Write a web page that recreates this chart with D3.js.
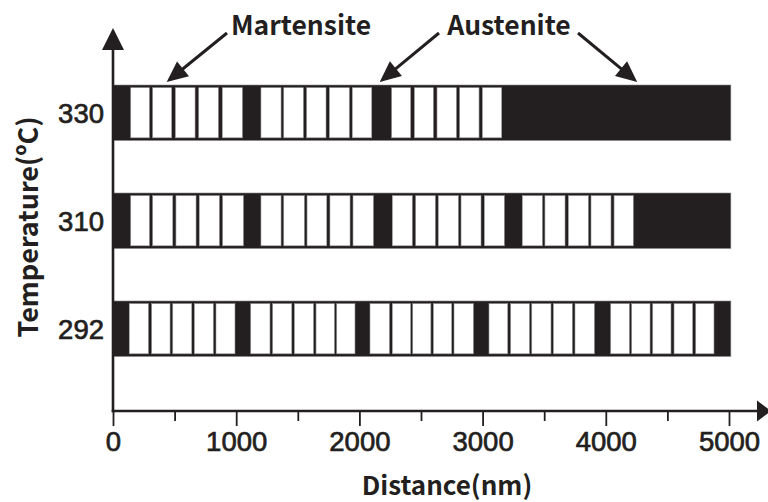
<!DOCTYPE html>
<html>
<head>
<meta charset="utf-8">
<script src="https://cdn.jsdelivr.net/npm/d3@7"></script>
<style>
  html, body { margin: 0; padding: 0; background: #fff; }
  svg { display: block; }
</style>
</head>
<body>
<svg id="chart" width="768" height="502"></svg>
<script>
// Rows of the plate map (temperature, °C), top to bottom
const temperatures = ["330", "310", "292"];

// Austenite strip length (nm)
const stripLength = 5015;

// Martensite plates per row: [start, end] in nm
const plates330 = [
  [144, 295], [322, 476], [506, 666], [696, 855], [887, 1050],
  [1201, 1364], [1386, 1545], [1572, 1729], [1756, 1918], [1942, 2100],
  [2262, 2416], [2446, 2600], [2630, 2787], [2814, 2971], [2998, 3155]
];
const plates310 = [
  [144, 295], [322, 485], [511, 674], [700, 863], [890, 1058],
  [1201, 1364], [1386, 1553], [1575, 1735], [1761, 1924], [1948, 2113],
  [2267, 2429], [2457, 2616], [2640, 2803], [2825, 2987], [3014, 3176],
  [3322, 3485], [3506, 3669], [3696, 3858], [3880, 4042], [4067, 4223]
];
const plates292 = [
  [132, 287], [314, 463], [485, 639], [660, 814], [836, 990],
  [1118, 1274], [1296, 1451], [1472, 1627], [1648, 1797], [1816, 1964],
  [2086, 2243], [2267, 2416], [2433, 2580], [2600, 2749], [2768, 2925],
  [3052, 3204], [3228, 3380], [3399, 3555], [3574, 3728], [3750, 3907],
  [4040, 4191], [4210, 4359], [4381, 4529], [4554, 4705], [4730, 4878]
];

// Axis ticks
const majorTicks = [0, 1000, 2000, 3000, 4000, 5000];
const minorTicks = [500, 1500, 2500, 3500, 4500];

// Callouts: label and the distance (nm) each arrow points at
const calloutLabels = ["Martensite", "Austenite"];
const calloutTargets = [[436], [2165, 4255]];

const platesByRow = { "330": plates330, "310": plates310, "292": plates292 };

const ink = "#231f20";
const latinFont = "'Liberation Sans', Arial, sans-serif";
const titleFont = "'Noto Sans CJK SC', 'Noto Sans', sans-serif";

const svg = d3.select("#chart");

const axisY = 411;
const x = d3.scaleLinear().domain([0, 5000]).range([113, 729]);
const y = d3.scaleBand()
  .domain(temperatures)
  .range([85, 356.5])
  .paddingInner(0.486)
  .paddingOuter(0);

// Strips and plates
const rows = svg.append("g").selectAll("g")
  .data(temperatures)
  .join("g")
  .attr("transform", d => `translate(0,${y(d)})`);

rows.append("rect")
  .attr("x", x(0))
  .attr("y", 0)
  .attr("width", x(stripLength) - x(0))
  .attr("height", y.bandwidth())
  .attr("fill", ink)
  .attr("stroke", "#8a8a8a")
  .attr("stroke-width", 0.6);

rows.selectAll("rect.plate")
  .data(d => platesByRow[d])
  .join("rect")
  .attr("class", "plate")
  .attr("x", d => x(d[0]))
  .attr("y", 2.7)
  .attr("width", d => x(d[1]) - x(d[0]))
  .attr("height", y.bandwidth() - 5.4)
  .attr("fill", "#fff")
  .attr("stroke", "#9a9a9a")
  .attr("stroke-width", 0.6);

// Tick label styling shared by both axes
function styleTickText(sel) {
  sel.attr("fill", ink)
    .attr("stroke", ink)
    .attr("stroke-width", 0.7)
    .style("font-family", latinFont)
    .style("font-size", "27.5px")
    .style("font-weight", "normal");
}

// X axis with major and minor ticks
const xAxis = svg.append("g")
  .attr("transform", `translate(0,${axisY})`)
  .call(d3.axisBottom(x).tickValues(majorTicks).tickSize(15).tickPadding(5).tickFormat(d3.format("d")));
xAxis.select(".domain").remove();
xAxis.selectAll(".tick line").attr("stroke", ink).attr("stroke-width", 1.8);
xAxis.selectAll(".tick text").call(styleTickText).attr("dy", "0.72em");

const xMinor = svg.append("g")
  .attr("transform", `translate(0,${axisY})`)
  .call(d3.axisBottom(x).tickValues(minorTicks).tickSize(10).tickFormat(""));
xMinor.select(".domain").remove();
xMinor.selectAll(".tick line").attr("stroke", ink).attr("stroke-width", 1.8);

// Y axis labels
const yAxis = svg.append("g")
  .attr("transform", `translate(${x(0)},0)`)
  .call(d3.axisLeft(y).tickSize(0).tickPadding(9));
yAxis.select(".domain").remove();
yAxis.selectAll(".tick text").call(styleTickText).attr("dy", "0.36em");

// Axis lines with arrowheads
const axes = svg.append("g");
axes.append("line")
  .attr("x1", x(0)).attr("y1", axisY + 1.2)
  .attr("x2", x(0)).attr("y2", 46)
  .attr("stroke", ink).attr("stroke-width", 2.6);
axes.append("path")
  .attr("d", `M${x(0)},28 L${x(0) - 11},50 L${x(0) + 11},50 Z`)
  .attr("fill", ink);
axes.append("line")
  .attr("x1", x(0) - 1.3).attr("y1", axisY)
  .attr("x2", 760).attr("y2", axisY)
  .attr("stroke", ink).attr("stroke-width", 2.6);
axes.append("path")
  .attr("d", `M771,${axisY} L757,${axisY - 10.5} L757,${axisY + 10.5} Z`)
  .attr("fill", ink);

// Axis titles
svg.append("text")
  .attr("x", 447)
  .attr("y", 495)
  .attr("text-anchor", "middle")
  .attr("fill", ink)
  .style("font-family", titleFont)
  .style("font-size", "26px")
  .style("font-weight", "bold")
  .text("Distance(nm)");

svg.append("text")
  .attr("transform", "translate(38,227) rotate(-90)")
  .attr("text-anchor", "middle")
  .attr("fill", ink)
  .style("font-family", titleFont)
  .style("font-size", "27px")
  .style("font-weight", "bold")
  .text("Temperature(ºC)");

// Callouts
const calloutText = [
  { label: calloutLabels[0], tx: 301, ty: 35, starts: [[227, 33]] },
  { label: calloutLabels[1], tx: 509, ty: 35, starts: [[439, 33], [578, 33]] }
];

function arrow(g, x1, y1, x2, y2) {
  const ang = Math.atan2(y2 - y1, x2 - x1);
  const len = 21, half = 9.5;
  const bx = x2 - len * Math.cos(ang), by = y2 - len * Math.sin(ang);
  g.append("line")
    .attr("x1", x1).attr("y1", y1)
    .attr("x2", bx + 2 * Math.cos(ang)).attr("y2", by + 2 * Math.sin(ang))
    .attr("stroke", ink).attr("stroke-width", 3);
  const px = -Math.sin(ang) * half, py = Math.cos(ang) * half;
  g.append("path")
    .attr("d", `M${x2},${y2} L${bx + px},${by + py} L${bx - px},${by - py} Z`)
    .attr("fill", ink);
}

const callouts = svg.append("g");
calloutText.forEach((c, i) => {
  callouts.append("text")
    .attr("x", c.tx)
    .attr("y", c.ty)
    .attr("text-anchor", "middle")
    .attr("fill", ink)
    .style("font-family", titleFont)
    .style("font-size", "26.5px")
    .style("font-weight", "bold")
    .text(c.label);
  calloutTargets[i].forEach((t, j) => {
    arrow(callouts, c.starts[j][0], c.starts[j][1], x(t), y("330") - 3);
  });
});
</script>
</body>
</html>
